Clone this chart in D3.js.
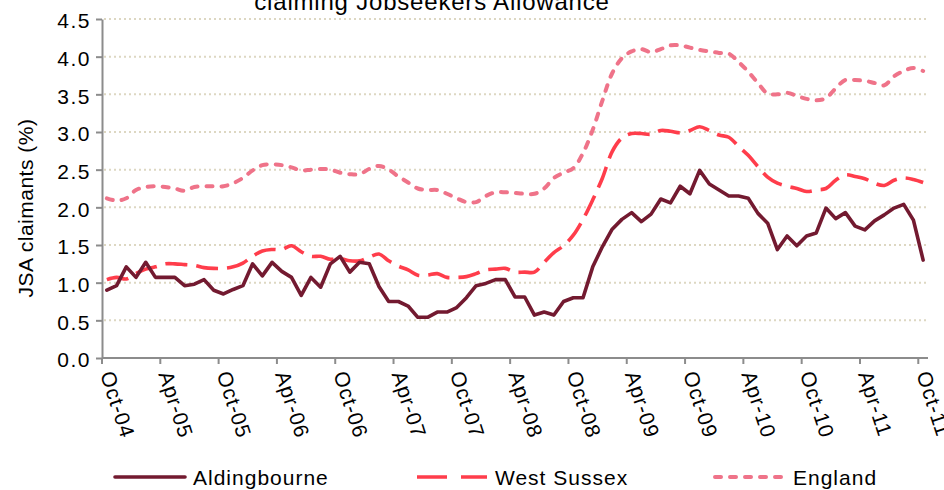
<!DOCTYPE html>
<html>
<head>
<meta charset="utf-8">
<script src="https://cdnjs.cloudflare.com/ajax/libs/d3/7.8.5/d3.min.js"></script>
<style>
  body { margin: 0; background: #fff; }
  svg { display: block; font-family: Arial, 'Liberation Sans', sans-serif; fill: #000; }
</style>
</head>
<body>
<svg id="chart" width="944" height="490"></svg>
<script>
/* global d3 */

// monthly claimant rates, Oct-04 .. Oct-11
var aldingbourne = [
  0.90, 0.96, 1.21, 1.07, 1.27, 1.07, 1.07, 1.07, 0.96, 0.98,
  1.04, 0.90, 0.85, 0.91, 0.96, 1.25, 1.09, 1.27, 1.15, 1.07,
  0.83, 1.07, 0.94, 1.25, 1.35, 1.14, 1.27, 1.25, 0.95, 0.75,
  0.75, 0.69, 0.54, 0.54, 0.61, 0.61, 0.67, 0.80, 0.96, 0.99,
  1.04, 1.04, 0.81, 0.81, 0.57, 0.61, 0.57, 0.75, 0.80, 0.80,
  1.21, 1.48, 1.71, 1.84, 1.93, 1.81, 1.91, 2.11, 2.06, 2.28,
  2.18, 2.49, 2.31, 2.23, 2.15, 2.15, 2.12, 1.92, 1.79, 1.44,
  1.62, 1.49, 1.62, 1.66, 1.99, 1.85, 1.93, 1.75, 1.70, 1.82,
  1.90, 1.99, 2.04, 1.83, 1.30
];

var westSussex = [
  1.04, 1.07, 1.05, 1.12, 1.18, 1.21, 1.25, 1.25, 1.24, 1.23,
  1.20, 1.19, 1.19, 1.21, 1.26, 1.35, 1.42, 1.44, 1.44, 1.49,
  1.41, 1.35, 1.35, 1.31, 1.32, 1.29, 1.29, 1.34, 1.38, 1.29,
  1.22, 1.17, 1.10, 1.10, 1.12, 1.07, 1.07, 1.08, 1.12, 1.17,
  1.18, 1.19, 1.14, 1.14, 1.14, 1.27, 1.40, 1.49, 1.63, 1.84,
  2.10, 2.39, 2.74, 2.92, 2.98, 2.98, 2.97, 3.02, 3.01, 2.99,
  3.02, 3.07, 3.02, 2.96, 2.93, 2.81, 2.69, 2.54, 2.40, 2.32,
  2.28, 2.25, 2.21, 2.23, 2.25, 2.36, 2.43, 2.41, 2.38, 2.32,
  2.29, 2.36, 2.39, 2.37, 2.33
];

var england = [
  2.12, 2.09, 2.12, 2.23, 2.27, 2.28, 2.27, 2.25, 2.22, 2.27,
  2.28, 2.28, 2.28, 2.32, 2.39, 2.49, 2.56, 2.57, 2.56, 2.53,
  2.49, 2.50, 2.51, 2.50, 2.46, 2.44, 2.44, 2.51, 2.55, 2.50,
  2.41, 2.33, 2.25, 2.23, 2.23, 2.18, 2.12, 2.07, 2.07, 2.15,
  2.20, 2.20, 2.19, 2.18, 2.18, 2.25, 2.39, 2.46, 2.52, 2.72,
  3.03, 3.42, 3.78, 3.98, 4.07, 4.10, 4.06, 4.10, 4.15, 4.15,
  4.12, 4.09, 4.07, 4.05, 4.04, 3.93, 3.80, 3.65, 3.51, 3.50,
  3.52, 3.48, 3.44, 3.42, 3.45, 3.58, 3.69, 3.69, 3.68, 3.65,
  3.62, 3.74, 3.81, 3.85, 3.81
];

var seriesNames = ['Aldingbourne', 'West Sussex', 'England'];

var tickLabels = [
  'Oct-04', 'Apr-05', 'Oct-05', 'Apr-06', 'Oct-06', 'Apr-07', 'Oct-07', 'Apr-08',
  'Oct-08', 'Apr-09', 'Oct-09', 'Apr-10', 'Oct-10', 'Apr-11', 'Oct-11'
];

var yTicks = [0, 0.5, 1, 1.5, 2, 2.5, 3, 3.5, 4, 4.5];

(function() {
  'use strict';

  var months = d3.timeMonth.range(new Date(2004, 9, 1), new Date(2011, 10, 1));
  var fmt = d3.timeFormat('%b-%y');
  var categories = months.map(fmt);

  var svg = d3.select('#chart');
  var plot = { left: 102, right: 928, top: 19, bottom: 358 };

  var x = d3.scaleLinear().domain([0, categories.length]).range([plot.left, plot.right]);
  var y = d3.scaleLinear().domain([0, 4.5]).range([plot.bottom, plot.top]);

  var styles = [
    { color: '#731a30', width: 3.6, dash: null, cap: 'round', curve: d3.curveLinear },
    { color: '#ff3d4b', width: 3.6, dash: '22,9', cap: 'butt', curve: d3.curveCatmullRom.alpha(0.5) },
    { color: '#ef7389', width: 4, dash: '6,9', cap: 'round', curve: d3.curveCatmullRom.alpha(0.5) }
  ];

  // title (first line sits above the visible area)
  svg.append('text')
    .attr('x', 432)
    .attr('y', 10)
    .attr('text-anchor', 'middle')
    .style('font-size', '24px')
    .style('letter-spacing', '0.8px')
    .text('claiming Jobseekers Allowance');

  // dotted gridlines
  svg.append('g')
    .selectAll('line')
    .data(yTicks.filter(function(d) { return d > 0; }))
    .enter().append('line')
    .attr('x1', plot.left + 2)
    .attr('x2', plot.right)
    .attr('y1', function(d) { return y(d); })
    .attr('y2', function(d) { return y(d); })
    .style('stroke', '#ddd7c2')
    .style('stroke-width', 2)
    .style('stroke-dasharray', '2,3');

  // y axis
  var yAxis = svg.append('g')
    .attr('transform', 'translate(' + plot.left + ',0)')
    .call(d3.axisLeft(y).tickValues(yTicks).tickFormat(d3.format('.1f'))
      .tickSize(6).tickSizeOuter(0).tickPadding(5));
  yAxis.select('.domain').style('stroke', '#8c8c8c').style('stroke-width', 2);
  yAxis.selectAll('.tick line').style('stroke', '#8c8c8c').style('stroke-width', 2);
  yAxis.selectAll('.tick text')
    .attr('dy', '0.42em')
    .style('font-family', 'Arial, "Liberation Sans", sans-serif')
    .style('font-size', '21px')
    .style('letter-spacing', '1.5px')
    .style('fill', '#000');

  // x axis, ticks on category boundaries every 6 months
  var xAxis = svg.append('g');
  xAxis.append('line')
    .attr('x1', plot.left)
    .attr('x2', plot.right)
    .attr('y1', plot.bottom)
    .attr('y2', plot.bottom)
    .style('stroke', '#8c8c8c')
    .style('stroke-width', 2);

  var xTicks = xAxis.selectAll('g.xtick')
    .data(tickLabels)
    .enter().append('g')
    .attr('class', 'xtick');

  xTicks.append('line')
    .attr('x1', function(d) { return x(categories.indexOf(d)); })
    .attr('x2', function(d) { return x(categories.indexOf(d)); })
    .attr('y1', plot.bottom)
    .attr('y2', plot.bottom + 6)
    .style('stroke', '#8c8c8c')
    .style('stroke-width', 2);

  xTicks.append('text')
    .attr('transform', function(d) {
      return 'translate(' + (x(categories.indexOf(d)) - 2) + ',' + (plot.bottom + 16) + ') rotate(72)';
    })
    .attr('text-anchor', 'start')
    .style('font-size', '21px')
    .style('letter-spacing', '1px')
    .text(function(d) { return d; });

  // y axis title
  svg.append('text')
    .attr('transform', 'translate(33,208) rotate(-90)')
    .attr('text-anchor', 'middle')
    .style('font-size', '21px')
    .style('letter-spacing', '0.5px')
    .text('JSA claimants (%)');

  // series lines
  var allSeries = [aldingbourne, westSussex, england];
  var drawOrder = [2, 1, 0];

  drawOrder.forEach(function(k) {
    var st = styles[k];
    var line = d3.line()
      .x(function(d, i) { return x(i + 0.5); })
      .y(function(d) { return y(d); })
      .curve(st.curve);

    svg.append('path')
      .datum(allSeries[k])
      .attr('d', line)
      .style('fill', 'none')
      .style('stroke', st.color)
      .style('stroke-width', st.width)
      .style('stroke-linejoin', 'round')
      .style('stroke-linecap', st.cap)
      .style('stroke-dasharray', st.dash);
  });

  // legend
  var legendX = [115, 417, 715];
  var legend = svg.append('g');

  seriesNames.forEach(function(name, k) {
    var st = styles[k];
    legend.append('line')
      .attr('x1', legendX[k])
      .attr('x2', legendX[k] + 70)
      .attr('y1', 477)
      .attr('y2', 477)
      .style('stroke', st.color)
      .style('stroke-width', st.width)
      .style('stroke-linecap', st.cap)
      .style('stroke-dasharray', k === 1 ? '30,14' : st.dash);

    legend.append('text')
      .attr('x', legendX[k] + 78)
      .attr('y', 485)
      .style('font-size', '21px')
      .style('letter-spacing', '1px')
      .text(name);
  });
})();
</script>
</body>
</html>
